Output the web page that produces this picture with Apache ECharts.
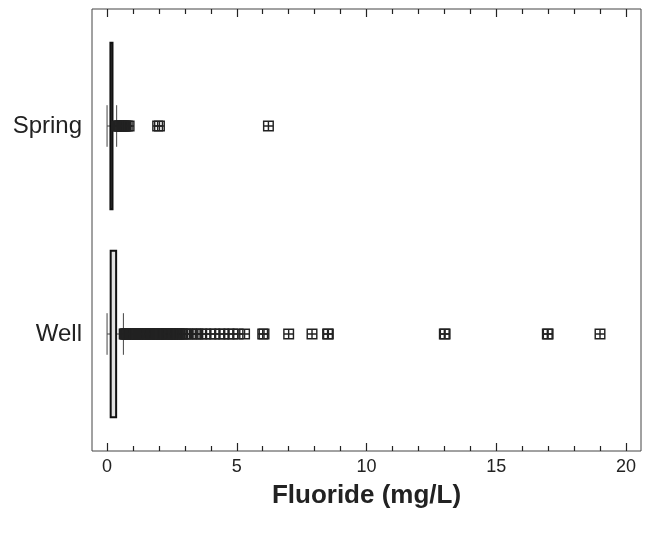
<!DOCTYPE html>
<html>
<head>
<meta charset="utf-8">
<script src="https://cdn.jsdelivr.net/npm/echarts@6/dist/echarts.min.js"></script>
<style>
  html, body { margin: 0; padding: 0; background: #fff; }
  #chart { width: 650px; height: 535px; }
</style>
</head>
<body>
<div id="chart"></div>
<script>
// Sample sources, y position 0 = Well, 1 = Spring
const groups = ['Well', 'Spring'];

// Box statistics: [lower whisker, Q1, Q3, upper whisker] in mg/L
const wellBox = [0.0, 0.14, 0.35, 0.63];
const springBox = [0.0, 0.13, 0.21, 0.37];

// Individual outlying samples (mg/L)
const wellOutliers = [
  0.66, 0.69, 0.71, 0.74, 0.77, 0.80, 0.82, 0.85, 0.88, 0.90, 0.93, 0.96,
  1.00, 1.03, 1.06, 1.10, 1.13, 1.16, 1.20, 1.23, 1.27, 1.30, 1.34, 1.38,
  1.41, 1.45, 1.50, 1.53, 1.57, 1.60, 1.65, 1.70, 1.73, 1.77, 1.80, 1.85,
  1.90, 1.94, 1.98, 2.00, 2.05, 2.10, 2.14, 2.20, 2.24, 2.30, 2.35, 2.40,
  2.45, 2.50, 2.55, 2.60, 2.65, 2.70, 2.75, 2.80, 2.86, 2.92,
  3.00, 3.10, 3.25, 3.40, 3.50, 3.65, 3.80,
  4.00, 4.15, 4.35, 4.50, 4.70, 4.85, 5.05, 5.30,
  6.00, 6.05, 7.00, 7.90, 8.50, 8.53, 13.00, 13.03, 16.97, 17.00, 19.00
];
const springOutliers = [
  0.40, 0.44, 0.47, 0.50, 0.53, 0.56, 0.60, 0.64, 0.68, 0.72, 0.78, 0.85,
  1.95, 2.02, 6.22
];

// Axis ticks
const majorTicks = [0, 5, 10, 15, 20];
const minorTicks = [1, 2, 3, 4, 6, 7, 8, 9, 11, 12, 13, 14, 16, 17, 18, 19];
const xTitle = 'Fluoride (mg/L)';

const FONT = '"Liberation Sans", Arial, Helvetica, sans-serif';
const INK = '#222';

// square with a cross inside, built from filled strips
const boxCross = 'path://M0,0H10V10H0Z M1.3,1.3V8.7H8.7V1.3Z M4.35,1.3H5.65V8.7H4.35Z M1.3,4.35H8.7V5.65H1.3Z';

const xRange = { min: -0.58, max: 20.58 };

function xAxisDef(position, ticks, len, extra) {
  return Object.assign({
    type: 'value',
    position: position,
    min: xRange.min,
    max: xRange.max,
    splitLine: { show: false },
    axisLine: { show: false, onZero: false },
    axisTick: {
      show: true,
      inside: true,
      length: len,
      customValues: ticks,
      lineStyle: { color: INK, width: 1.2 }
    },
    axisLabel: { show: false }
  }, extra || {});
}

function renderBox(params, api) {
  const yv = api.value(0);
  const lo = api.value(1), q1 = api.value(2), q3 = api.value(3), hi = api.value(4);
  const half = api.size([0, 0.4])[1];
  const cap = api.size([0, 0.1])[1];
  const pLo = api.coord([lo, yv]);
  const pQ1 = api.coord([q1, yv]);
  const pQ3 = api.coord([q3, yv]);
  const pHi = api.coord([hi, yv]);
  const cy = pLo[1];
  const thin = { stroke: '#444', lineWidth: 1 };
  return {
    type: 'group',
    children: [
      { type: 'line', shape: { x1: pLo[0], y1: cy, x2: pHi[0], y2: cy }, style: thin },
      { type: 'line', shape: { x1: pLo[0], y1: cy - cap, x2: pLo[0], y2: cy + cap }, style: thin },
      { type: 'line', shape: { x1: pHi[0], y1: cy - cap, x2: pHi[0], y2: cy + cap }, style: thin },
      {
        type: 'rect',
        shape: { x: pQ1[0], y: cy - half, width: pQ3[0] - pQ1[0], height: 2 * half },
        style: { fill: '#e2e2e2', stroke: '#111', lineWidth: 2 }
      }
    ]
  };
}

const chart = echarts.init(document.getElementById('chart'), null, { renderer: 'canvas' });

chart.setOption({
  animation: false,
  backgroundColor: '#fff',
  textStyle: { fontFamily: FONT },
  grid: {
    left: 92, right: 9, top: 9, bottom: 84,
    show: true, borderColor: '#444', borderWidth: 1, backgroundColor: 'transparent'
  },
  xAxis: [
    xAxisDef('bottom', majorTicks, 8, {
      axisLabel: {
        show: true,
        customValues: majorTicks,
        fontSize: 18,
        color: INK,
        margin: 7,
        fontFamily: FONT
      },
      name: xTitle,
      nameLocation: 'middle',
      nameGap: 32,
      nameTextStyle: { fontSize: 26, fontWeight: 'bold', color: INK, fontFamily: FONT }
    }),
    xAxisDef('bottom', minorTicks, 5),
    xAxisDef('top', majorTicks, 8),
    xAxisDef('top', minorTicks, 5)
  ],
  yAxis: {
    type: 'value',
    min: -0.5625,
    max: 1.5625,
    splitLine: { show: false },
    axisTick: { show: false },
    axisLine: { show: false, onZero: false },
    axisLabel: {
      customValues: [0, 1],
      formatter: function (v) { return groups[Math.round(v)]; },
      fontSize: 24,
      color: INK,
      margin: 10,
      fontFamily: FONT
    }
  },
  series: [
    {
      type: 'custom',
      xAxisIndex: 0,
      renderItem: renderBox,
      encode: { x: [1, 2, 3, 4], y: 0 },
      data: [
        [0].concat(wellBox),
        [1].concat(springBox)
      ],
      z: 2
    },
    {
      type: 'scatter',
      xAxisIndex: 0,
      symbol: boxCross,
      symbolSize: 11,
      itemStyle: { color: '#222', opacity: 1 },
      data: wellOutliers.map(function (v) { return [v, 0]; }),
      z: 3
    },
    {
      type: 'scatter',
      xAxisIndex: 0,
      symbol: boxCross,
      symbolSize: 11,
      itemStyle: { color: '#222', opacity: 1 },
      data: springOutliers.map(function (v) { return [v, 1]; }),
      z: 3
    }
  ]
});
</script>
</body>
</html>
